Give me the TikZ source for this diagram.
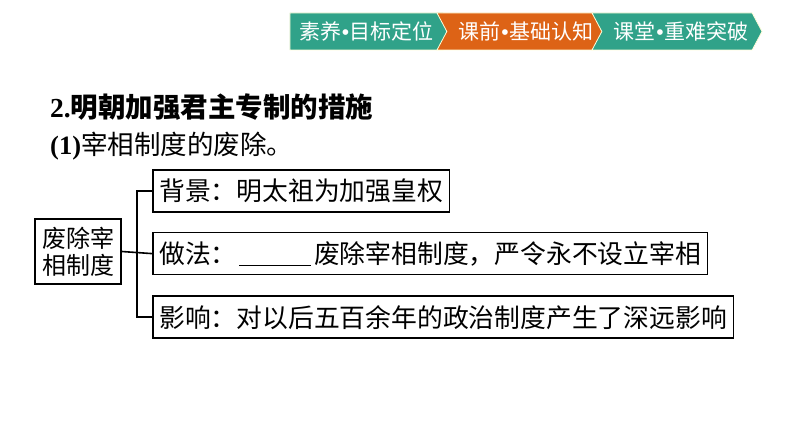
\documentclass[tikz,border=0pt]{standalone}
\usepackage{fontspec}
\setmainfont{Liberation Serif}
\newfontfamily\cjk{Noto Sans CJK SC}
\newfontfamily\latinsans{Liberation Sans}
\usetikzlibrary{shapes.symbols, positioning}
\definecolor{tealband}{RGB}{48,162,137}
\definecolor{orangeband}{RGB}{221,99,22}
\newcommand{\bandsep}{{\latinsans\hspace{0.5pt}•\hspace{0.5pt}}}
\tikzstyle{band} = [signal, signal to=east, signal pointer angle=124, minimum height=37pt, inner sep=0pt, draw=white!85!yellow, line width=0.8pt, text=white, font=\cjk\fontsize{21pt}{24pt}\selectfont]
\tikzstyle{item} = [rectangle, draw=black, line width=1.6pt, minimum height=42pt, inner xsep=6.5pt, inner ysep=0pt, anchor=west, font=\cjk\fontsize{25.8pt}{28pt}\selectfont]
\tikzstyle{link} = [line width=1.6pt]

\begin{document}
\begin{tikzpicture}[x=1pt, y=-1pt]

    \useasboundingbox (0,0) rectangle (794,446);

    % Section bar
    \node (aim) [band, fill=tealband, minimum width=163pt] at (366.5,31.5) {素养\bandsep 目标定位};
    \node (pre) [band, fill=orangeband, signal from=west, minimum width=164pt] at (520,31.5) {\hspace{12pt}课前\bandsep 基础认知};
    \node (cls) [band, fill=tealband, signal from=west, minimum width=170pt] at (677,31.5) {\hspace{8pt}课堂\bandsep 重难突破};

    % Headings
    \node (title) [anchor=west, inner sep=0pt, font=\fontsize{27.5pt}{30pt}\selectfont] at (50,107) {\textbf{2.}{\cjk\bfseries 明朝加强君主专制的措施}};
    \node (sub) [anchor=west, inner sep=0pt, font=\fontsize{26.5pt}{29pt}\selectfont] at (50,146) {\textbf{(1)}{\cjk 宰相制度的废除。}};

    % Left block
    \node (lbox) [item, anchor=center, align=center, minimum width=86pt, minimum height=65pt, font=\cjk\fontsize{24pt}{27pt}\selectfont] at (78,251.5) {废除宰\\相制度};

    % Branch blocks
    \node (bg) [item] at (152,191) {背景：明太祖为加强皇权};
    \node (zf) [item, below=19pt of bg.south west, anchor=north west] {做法：\hspace{2.7pt}\rule[-3pt]{72pt}{1.5pt}\hspace{2.7pt}废除宰相制度，严令永不设立宰相};
    \node (yx) [item, below=20pt of zf.south west, anchor=north west] {影响：对以后五百余年的政治制度产生了深远影响};

    \coordinate (fork) at (137,252);
    \draw [link] (lbox.east) -- (zf.west);
    \draw [link] (bg.west) -| (fork) |- (yx.west);

\end{tikzpicture}
\end{document}
